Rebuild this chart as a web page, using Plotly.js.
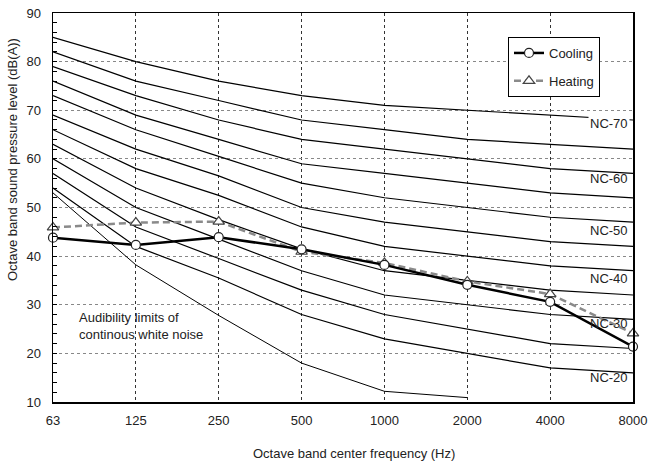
<!DOCTYPE html>
<html>
<head>
<meta charset="utf-8">
<script src="https://cdn.plot.ly/plotly-3.0.1.min.js"></script>
<style>html,body{margin:0;padding:0;background:#fff;}#chart{width:650px;height:463px;}</style>
</head>
<body>
<div id="chart"></div>
<script>
// Octave band center frequencies (Hz)
const freqs = ['63', '125', '250', '500', '1000', '2000', '4000', '8000'];

// NC curves (dB)
const nc70 = [85, 80, 76, 73, 71, 70, 69, 68];
const nc65 = [82, 76, 72, 68, 66, 64, 63, 62];
const nc60 = [79, 73, 68, 64, 62, 60, 58, 57];
const nc55 = [76, 69, 64, 59, 57, 55, 53, 52];
const nc50 = [73, 66, 60.5, 55, 52, 50, 48, 47];
const nc45 = [69, 62, 56.5, 50, 47, 45, 43, 42];
const nc40 = [66, 58, 52.5, 46, 42, 40, 38, 37];
const nc35 = [63, 54, 47.5, 41.5, 37, 35, 33, 32];
const nc30 = [60, 50, 43.5, 37, 32, 30, 28, 27];
const nc25 = [57, 46, 39.5, 33, 28, 25, 22, 21];
const nc20 = [54, 42, 35.5, 28, 23, 20, 17, 16];

// Audibility limits of continuous white noise (63 Hz .. 2000 Hz)
const audFreqs = ['63', '125', '250', '500', '1000', '2000'];
const audibility = [53, 38.2, 27.8, 18, 12.2, 10.9];

// Measured unit levels
const cooling = [43.8, 42.3, 43.9, 41.4, 38.2, 34.1, 30.6, 21.4];
const heating = [45.9, 46.9, 47.1, 40.9, 38.6, 34.8, 32.2, 24.1];

// Right-hand curve labels
const ncLabelText = ['NC-70', 'NC-60', 'NC-50', 'NC-40', 'NC-30', 'NC-20'];
const ncLabelLevel = [67.3, 56, 45.3, 35.5, 26.2, 15];

const FONT = 'Arial, "Liberation Sans", sans-serif';

const ncCurves = [nc70, nc65, nc60, nc55, nc50, nc45, nc40, nc35, nc30, nc25, nc20];
const traces = ncCurves.map(v => ({
  x: freqs, y: v, type: 'scatter', mode: 'lines',
  line: {color: '#000', width: 1.2}, showlegend: false, hoverinfo: 'skip'
}));
traces.push({
  x: audFreqs, y: audibility, type: 'scatter', mode: 'lines',
  line: {color: '#000', width: 1}, showlegend: false, hoverinfo: 'skip'
});
traces.push({
  x: freqs, y: heating, type: 'scatter', mode: 'lines+markers', name: 'Heating',
  legendgroup: 'h', legendrank: 2, cliponaxis: false,
  line: {color: '#8a8a8a', width: 2.5, dash: '7px,4px'},
  marker: {symbol: 'triangle-up', size: 10, color: '#fff', line: {color: '#444', width: 1.2}}
});
traces.push({
  x: freqs, y: cooling, type: 'scatter', mode: 'lines+markers', name: 'Cooling',
  legendgroup: 'c', legendrank: 1, cliponaxis: false,
  line: {color: '#000', width: 2.5},
  marker: {symbol: 'circle', size: 9, color: '#fff', line: {color: '#222', width: 1.2}}
});

const annotations = ncLabelText.map((t, i) => ({
  text: t, xref: 'paper', yref: 'y', x: 0.958, y: ncLabelLevel[i],
  xanchor: 'center', yanchor: 'middle', showarrow: false,
  font: {family: FONT, size: 13, color: '#222'},
  bgcolor: i === 0 ? '#fff' : 'rgba(0,0,0,0)', borderpad: 1
}));
annotations.push({
  text: 'Audibility limits of<br>continous white noise', xref: 'paper', yref: 'paper',
  x: (77 - 53) / 580, y: 1 - (326 - 13) / 389, xanchor: 'left', yanchor: 'middle',
  align: 'left', showarrow: false, font: {family: FONT, size: 13, color: '#222'}
});
annotations.push({
  text: 'Octave band center frequency (Hz)', xref: 'paper', yref: 'paper',
  x: (354 - 53) / 580, y: -(453 - 402) / 389, xanchor: 'center', yanchor: 'middle',
  showarrow: false, font: {family: FONT, size: 13, color: '#222'}
});
annotations.push({
  text: 'Octave band sound pressure level (dB(A))', xref: 'paper', yref: 'paper',
  x: (12 - 53) / 580, y: 1 - (160 - 13) / 389, xanchor: 'center', yanchor: 'middle',
  textangle: -90, showarrow: false, font: {family: FONT, size: 13, color: '#222'}
});

const layout = {
  width: 650, height: 463,
  margin: {l: 53, r: 17, t: 13, b: 61},
  paper_bgcolor: '#fff', plot_bgcolor: '#fff',
  font: {family: FONT, size: 13, color: '#222'},
  showlegend: true,
  legend: {
    x: (508 - 53) / 580, y: 1 - (37 - 13) / 389, xanchor: 'left', yanchor: 'top',
    bgcolor: '#fff', bordercolor: '#000', borderwidth: 1,
    font: {family: FONT, size: 13, color: '#222'}, tracegroupgap: 8
  },
  xaxis: {
    type: 'category', range: [0, 7], showgrid: true, gridcolor: '#333', griddash: 'dot', gridwidth: 1,
    showline: true, mirror: true, linecolor: '#000', linewidth: 1.5, ticks: '', zeroline: false,
    tickfont: {family: FONT, size: 13, color: '#222'}, ticklabelstandoff: 6
  },
  yaxis: {
    range: [10, 90], dtick: 10, tick0: 10, showgrid: true, gridcolor: '#888', griddash: 'dot', gridwidth: 1,
    showline: true, mirror: true, linecolor: '#000', linewidth: 1.5, zeroline: false,
    ticks: 'inside', ticklen: 4, tickcolor: '#000',
    minor: {dtick: 2, ticks: 'inside', ticklen: 4, tickcolor: '#000', showgrid: false},
    tickfont: {family: FONT, size: 13, color: '#222'}, ticklabelstandoff: 8
  },
  annotations: annotations
};

Plotly.newPlot('chart', traces, layout, {displayModeBar: false, staticPlot: true});
</script>
</body>
</html>
